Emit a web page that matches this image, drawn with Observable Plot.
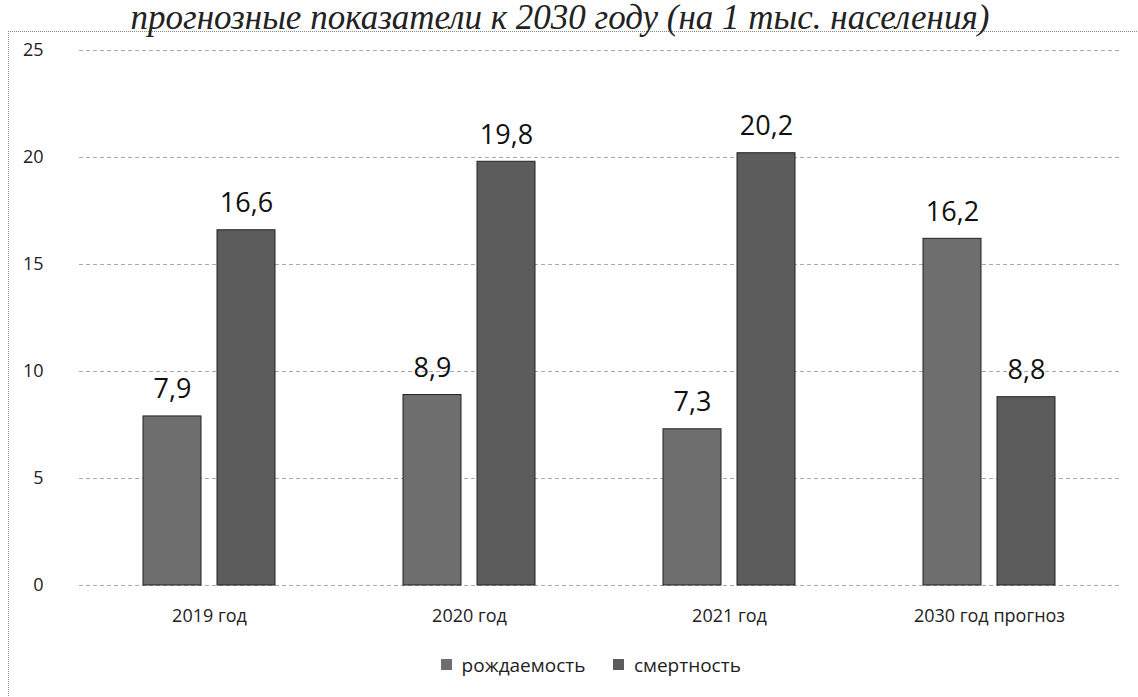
<!DOCTYPE html>
<html><head><meta charset="utf-8">
<script src="https://cdn.jsdelivr.net/npm/d3@7"></script>
<script src="https://cdn.jsdelivr.net/npm/@observablehq/plot@0.6"></script>
<style>
body{margin:0;background:#fff;width:1138px;height:697px;overflow:hidden;position:relative;font-family:"Open Sans",sans-serif;}
#title{position:absolute;left:0;top:0px;width:1120px;text-align:center;font:italic 35px "Liberation Serif",serif;color:#222;white-space:nowrap;line-height:35px;}
#frame{position:absolute;left:8px;top:31px;width:1200px;height:800px;border-left:1px dotted #888;border-top:1px dotted #888;}
#chart{position:absolute;left:0;top:0;}
#legend{position:absolute;left:36px;top:648px;width:1138px;display:flex;justify-content:center;}
.lg-swatch{margin-right:28px !important;}
</style></head><body>
<div id="frame"></div>
<div id="title">прогнозные показатели к 2030 году (на 1 тыс. населения)</div>
<div id="chart"></div>
<div id="legend"></div>
<script>
const categories = ["2019 год", "2020 год", "2021 год", "2030 год прогноз"];
const series = ["рождаемость", "смертность"];
const birthValues = [7.9, 8.9, 7.3, 16.2];
const deathValues = [16.6, 19.8, 20.2, 8.8];
const yTicks = [0, 5, 10, 15, 20, 25];
const colors = ["#6e6e6e", "#5c5c5c"];

const birth = categories.map((c, i) => ({cat: c, series: series[0], value: birthValues[i]}));
const death = categories.map((c, i) => ({cat: c, series: series[1], value: deathValues[i]}));
const fmt = v => v.toFixed(1).replace(".", ",");
const font = '"Open Sans", sans-serif';

const chart = Plot.plot({
  width: 1138, height: 640,
  marginTop: 50, marginBottom: 55, marginLeft: 79, marginRight: 19,
  style: {fontFamily: font, background: "transparent", color: "#222"},
  x: {domain: categories, paddingInner: 0.492, paddingOuter: 0.246, label: null},
  y: {domain: [0, 25], label: null},
  marks: [
    Plot.ruleY(yTicks, {stroke: "#aaa", strokeDasharray: "4,3"}),
    Plot.barY(birth, {x: "cat", y: "value", fill: colors[0], stroke: "#222", strokeWidth: 1, insetRight: 74}),
    Plot.barY(death, {x: "cat", y: "value", fill: colors[1], stroke: "#222", strokeWidth: 1, insetLeft: 74}),
    Plot.text(birth, {x: "cat", y: "value", text: d => fmt(d.value), dx: -37, dy: -18, lineAnchor: "bottom", fontSize: 27, fill: "#111"}),
    Plot.text(death, {x: "cat", y: "value", text: d => fmt(d.value), dx: 37, dy: -18, lineAnchor: "bottom", fontSize: 27, fill: "#111"}),
    Plot.axisY({ticks: yTicks, tickSize: 0, tickPadding: 36, fontSize: 18, label: null}),
    Plot.axisX({tickSize: 0, tickPadding: 24, fontSize: 18, label: null})
  ]
});
document.getElementById("chart").append(chart);

const legend = Plot.legend({
  color: {type: "ordinal", domain: series, range: colors},
  swatchSize: 11,
  className: "lg",
  style: {fontSize: "19px", fontFamily: font, color: "#222"}
});
document.getElementById("legend").append(legend);
</script>
</body></html>
